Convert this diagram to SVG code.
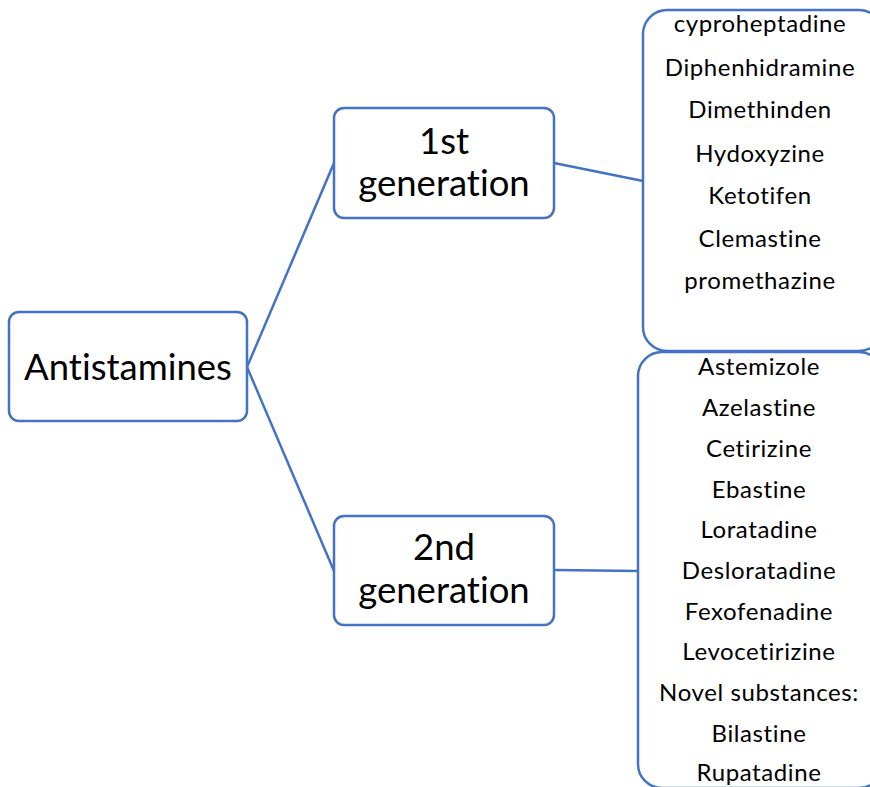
<svg xmlns="http://www.w3.org/2000/svg" width="870" height="787" viewBox="0 0 870 787">
<style>
.box{fill:#fff;stroke:#4472C4;stroke-width:2.5}
.conn{stroke:#4472C4;stroke-width:2.5;fill:none}
text{font-family:Lato,"Open Sans","Liberation Sans",sans-serif;fill:#000;text-anchor:middle;font-variant-ligatures:none;font-feature-settings:"liga" 0}
.big{font-size:36.5px}
.sm{font-size:24px;letter-spacing:0.6px}
</style>
<rect width="870" height="787" fill="#fff"/>
<g id="connectors">
<line class="conn" x1="247" y1="367" x2="334" y2="163"/>
<line class="conn" x1="247" y1="367" x2="334" y2="571"/>
<line class="conn" x1="554" y1="163" x2="643" y2="181"/>
<line class="conn" x1="554" y1="570" x2="638" y2="571"/>
</g>
<g id="root">
<rect class="box" x="9" y="312" width="238" height="109" rx="10"/>
<text class="big" x="128" y="380">Antistamines</text>
</g>
<g id="gen1">
<rect class="box" x="334" y="108" width="220" height="110" rx="10"/>
<text class="big" x="444" y="154">1st</text>
<text class="big" x="444" y="196">generation</text>
</g>
<g id="gen2">
<rect class="box" x="334" y="516" width="220" height="109" rx="10"/>
<text class="big" x="444" y="560">2nd</text>
<text class="big" x="444" y="603">generation</text>
</g>
<g id="list1">
<rect class="box" x="643" y="10" width="240" height="341" rx="24"/>
<g class="sm">
<text x="760" y="32">cyproheptadine</text>
<text x="760" y="76">Diphenhidramine</text>
<text x="760" y="118">Dimethinden</text>
<text x="760" y="162">Hydoxyzine</text>
<text x="760" y="204">Ketotifen</text>
<text x="760" y="247">Clemastine</text>
<text x="760" y="289">promethazine</text>
</g>
</g>
<g id="list2">
<rect class="box" x="638" y="352" width="245" height="436" rx="24"/>
<g class="sm">
<text x="759" y="375">Astemizole</text>
<text x="759" y="416">Azelastine</text>
<text x="759" y="457">Cetirizine</text>
<text x="759" y="498">Ebastine</text>
<text x="759" y="538">Loratadine</text>
<text x="759" y="579">Desloratadine</text>
<text x="759" y="620">Fexofenadine</text>
<text x="759" y="660">Levocetirizine</text>
<text x="759" y="701">Novel substances:</text>
<text x="759" y="742">Bilastine</text>
<text x="759" y="781">Rupatadine</text>
</g>
</g>
</svg>
